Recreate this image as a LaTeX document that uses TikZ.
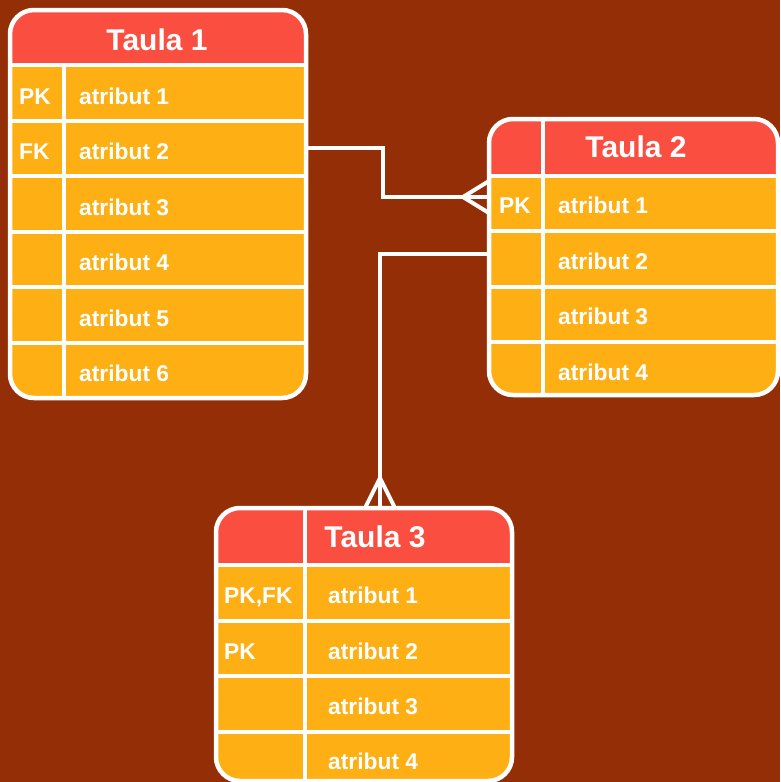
\documentclass[tikz,border=0pt]{standalone}
\usepackage{fontspec}
\setmainfont{Liberation Sans}
\definecolor{bg}{RGB}{148,46,6}
\definecolor{hdr}{RGB}{250,78,64}
\definecolor{rowc}{RGB}{253,175,20}
\tikzset{
  ttl/.style={text=white,font=\fontsize{30}{35}\selectfont\bfseries,inner sep=0pt,anchor=base},
  cell/.style={text=white,font=\fontsize{22.8}{27}\selectfont\bfseries,anchor=base west,inner sep=0pt},
  gridline/.style={white,line width=4pt},
  frame/.style={white,line width=4.5pt,rounded corners=24pt},
  link/.style={white,line width=4pt},
}
\begin{document}
\begin{tikzpicture}[x=1pt,y=-1pt]
\useasboundingbox (0,0) rectangle (780,782);
\fill[bg] (0,0) rectangle (780,782);
\begin{scope}
\clip (0,0) rectangle (780,782);

% ---------- Table 1 ----------
\begin{scope}
  \clip[rounded corners=24pt] (10,10) rectangle (306,398);
  \fill[rowc] (10,10) rectangle (306,398);
  \fill[hdr] (10,10) rectangle (306,65);
\end{scope}
\foreach \yy in {65,120.5,176,231.5,287,342.5} \draw[gridline] (10,\yy) -- (306,\yy);
\draw[gridline] (64,65) -- (64,398);
\draw[frame] (10,10) rectangle (306,398);
\node[ttl] (t1t) at (157,50) {Taula 1};
\node[cell] (t1k1) at (19,104) {PK};
\node[cell] (t1k2) at (19,159) {FK};
\node[cell] (t1a1) at (79,104) {atribut 1};
\node[cell] (t1a2) at (79,159) {atribut 2};
\node[cell] (t1a3) at (79,215) {atribut 3};
\node[cell] (t1a4) at (79,270) {atribut 4};
\node[cell] (t1a5) at (79,326) {atribut 5};
\node[cell] (t1a6) at (79,381) {atribut 6};

% ---------- Table 2 ----------
\begin{scope}
  \clip[rounded corners=24pt] (489,119) rectangle (778,395);
  \fill[rowc] (489,119) rectangle (778,395);
  \fill[hdr] (489,119) rectangle (778,176);
\end{scope}
\foreach \yy in {176,231,287,342} \draw[gridline] (489,\yy) -- (778,\yy);
\draw[gridline] (543,119) -- (543,395);
\draw[frame] (489,119) rectangle (778,395);
\node[ttl] (t2t) at (636,157) {Taula 2};
\node[cell] (t2k1) at (499,213) {PK};
\node[cell] (t2a1) at (558,213) {atribut 1};
\node[cell] (t2a2) at (558,269) {atribut 2};
\node[cell] (t2a3) at (558,324) {atribut 3};
\node[cell] (t2a4) at (558,380) {atribut 4};

% ---------- Table 3 ----------
\begin{scope}
  \clip[rounded corners=24pt] (216,508) rectangle (512,781);
  \fill[rowc] (216,508) rectangle (512,781);
  \fill[hdr] (216,508) rectangle (512,565);
\end{scope}
\foreach \yy in {565,621,676,732} \draw[gridline] (216,\yy) -- (512,\yy);
\draw[gridline] (305,508) -- (305,781);
\draw[frame] (216,508) rectangle (512,781);
\node[ttl] (t3t) at (375,547) {Taula 3};
\node[cell] (t3k1) at (224,603) {PK,FK};
\node[cell] (t3k2) at (224,659) {PK};
\node[cell] (t3a1) at (328,603) {atribut 1};
\node[cell] (t3a2) at (328,659) {atribut 2};
\node[cell] (t3a3) at (328,714) {atribut 3};
\node[cell] (t3a4) at (328,769) {atribut 4};

% ---------- Connectors ----------
\coordinate (c1s) at (306,148);
\coordinate (c1e) at (489,197);
\coordinate (c1a) at (463,197);
\draw[link,line join=miter] (c1s) -- (383,148) -- (383,197) -- (c1a);
\draw[link] (c1a) -- (c1e);
\draw[link] (c1a) -- ([yshift=-16pt]c1e);
\draw[link] (c1a) -- ([yshift=16pt]c1e);

\coordinate (c2s) at (489,254);
\coordinate (c2e) at (380,508);
\coordinate (c2a) at (380,478);
\draw[link,line join=miter] (c2s) -- (380,254) -- (c2a);
\draw[link] (c2a) -- (c2e);
\draw[link] (c2a) -- ([xshift=-15pt]c2e);
\draw[link] (c2a) -- ([xshift=15pt]c2e);
\end{scope}
\end{tikzpicture}
\end{document}
